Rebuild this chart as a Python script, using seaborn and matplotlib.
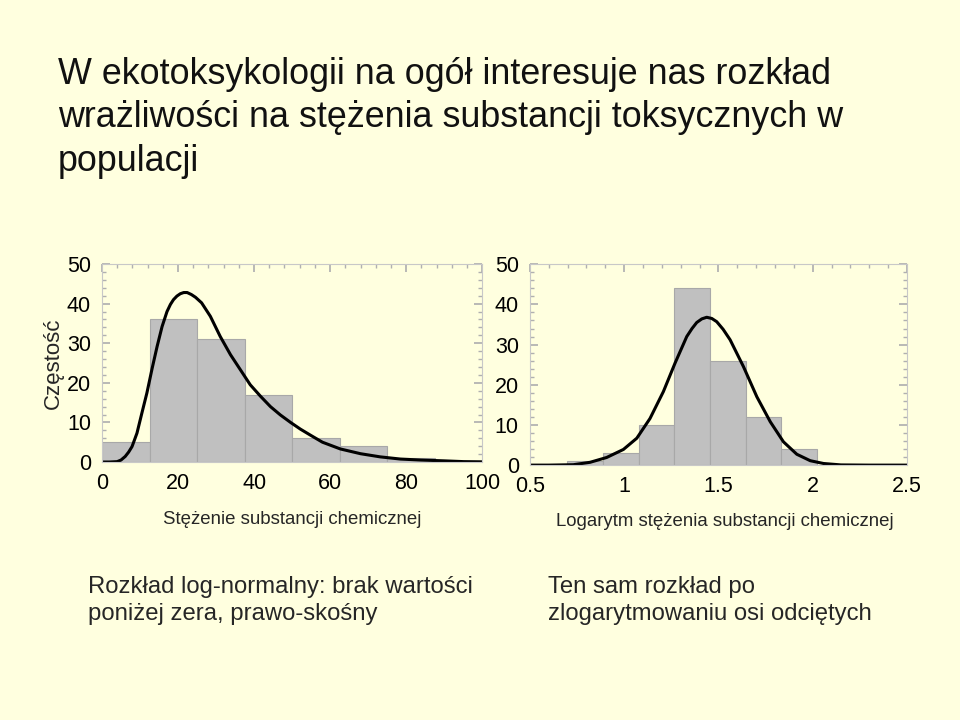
import numpy as np
import pandas as pd
import matplotlib
matplotlib.use('Agg')
import matplotlib.pyplot as plt
from matplotlib.ticker import MultipleLocator
import seaborn as sns

# Histogram counts (left: raw concentration, right: log10 concentration)
lin_edges = [0, 12.5, 25, 37.5, 50, 62.5, 75, 87.5]
lin_counts = [5, 36, 31, 17, 6, 4, 1]

log_edges = [0.699, 0.888, 1.077, 1.266, 1.455, 1.644, 1.833, 2.021]
log_counts = [1, 3, 10, 44, 26, 12, 4]

# Fitted density curves
lin_curve_x = [0, 2, 4, 5, 6.1, 7.0, 7.9, 9.2, 10.5, 11.8, 13.2, 14.5, 15.8, 17.1, 18.0,
               18.8, 19.7, 20.6, 21.5, 22.4, 23.5, 24.6, 26.2, 28.5, 31.1, 33.8, 36.4,
               39.0, 41.7, 44.3, 46.9, 49.6, 52.2, 54.8, 58.0, 62.7, 68.0, 73.2, 78.5,
               83.8, 89.9, 95.2, 100]
lin_curve_y = [0, 0, 0.1, 0.5, 1.4, 2.5, 3.9, 7.3, 12.4, 17.4, 23.7, 29.2, 34.2, 38.0, 39.8,
               41.0, 41.9, 42.5, 42.8, 42.8, 42.3, 41.6, 40.2, 36.8, 31.7, 27.1, 23.3,
               19.5, 16.6, 14.0, 11.9, 10.0, 8.3, 6.8, 5.0, 3.3, 2.1, 1.3, 0.75,
               0.5, 0.3, 0.1, 0.05]

log_curve_x = [0.5, 0.6, 0.73, 0.819, 0.907, 0.996, 1.067, 1.137, 1.208, 1.270, 1.332,
               1.360, 1.385, 1.412, 1.438, 1.465, 1.491, 1.525, 1.562, 1.633, 1.704,
               1.775, 1.845, 1.916, 1.987, 2.058, 2.15, 2.3, 2.5]
log_curve_y = [0, 0, 0.1, 0.7, 1.9, 3.9, 6.7, 11.6, 18.3, 25.4, 32.0,
               34.0, 35.5, 36.4, 36.8, 36.5, 35.7, 33.8, 31.2, 24.5, 17.0,
               10.8, 5.8, 2.7, 1.1, 0.4, 0.05, 0, 0]

title = ("W ekotoksykologii na ogół interesuje nas rozkład\n"
         "wrażliwości na stężenia substancji toksycznych w\n"
         "populacji")
ylabel = "Częstość"
xlabel_left = "Stężenie substancji chemicznej"
xlabel_right = "Logarytm stężenia substancji chemicznej"
note_left = "Rozkład log-normalny: brak wartości\nponiżej zera, prawo-skośny"
note_right = "Ten sam rozkład po\nzlogarytmowaniu osi odciętych"

bg = '#ffffdf'
sns.set_theme(style='white')
plt.rcParams['font.family'] = ['Liberation Sans', 'DejaVu Sans']

fig = plt.figure(figsize=(9.6, 7.2), dpi=100, facecolor=bg)
ax1 = fig.add_axes([0.10625, 0.3583, 0.396, 0.275])
ax2 = fig.add_axes([0.552, 0.354, 0.3927, 0.279])


def draw_panel(ax, edges, counts, cx, cy):
    centers = [(a + b) / 2 for a, b in zip(edges[:-1], edges[1:])]
    df = pd.DataFrame({'x': centers, 'n': counts})
    sns.histplot(data=df, x='x', weights='n', bins=edges, ax=ax,
                 color='#c0c0c0', edgecolor='#a8a8a8', linewidth=0.8, alpha=1)
    sns.lineplot(x=cx, y=cy, ax=ax, color='black', linewidth=2.2, sort=False)
    ax.set_facecolor(bg)
    ax.set_ylim(0, 50)
    ax.yaxis.set_major_locator(MultipleLocator(10))
    ax.yaxis.set_minor_locator(MultipleLocator(2))
    ax.set_xlabel('')
    ax.set_ylabel('')
    for s in ax.spines.values():
        s.set_color('#c8c8c8')
        s.set_linewidth(0.8)
    ax.tick_params(which='both', direction='in', colors='#b0b0b0',
                   labelcolor='black', labelsize=15.5, left=True, right=True,
                   top=True, bottom=False)
    ax.tick_params(which='major', length=6, pad=8)
    ax.tick_params(which='minor', length=3)


draw_panel(ax1, lin_edges, lin_counts, lin_curve_x, lin_curve_y)
ax1.set_xlim(0, 100)
ax1.xaxis.set_major_locator(MultipleLocator(20))
ax1.xaxis.set_minor_locator(MultipleLocator(4))
ax1.set_ylabel(ylabel, fontsize=16, labelpad=2)

draw_panel(ax2, log_edges, log_counts, log_curve_x, log_curve_y)
ax2.set_xlim(0.5, 2.5)
ax2.xaxis.set_minor_locator(MultipleLocator(0.1))
ax2.set_xticks([0.5, 1, 1.5, 2, 2.5])
ax2.set_xticklabels(['0.5', '1', '1.5', '2', '2.5'])

fig.text(0.06, 1 - 57 / 720, title, fontsize=25.8, color='#111111',
         va='top', ha='left', linespacing=1.31)
fig.text(292 / 960, 1 - 519 / 720, xlabel_left, fontsize=13.4,
         ha='center', va='center')
fig.text(725 / 960, 1 - 521 / 720, xlabel_right, fontsize=13.4,
         ha='center', va='center')
fig.text(88 / 960, 1 - 576 / 720, note_left, fontsize=17.2,
         ha='left', va='top', linespacing=1.3)
fig.text(548 / 960, 1 - 576 / 720, note_right, fontsize=17.2,
         ha='left', va='top', linespacing=1.3)

fig.savefig('out.png', dpi=100, facecolor=bg)
